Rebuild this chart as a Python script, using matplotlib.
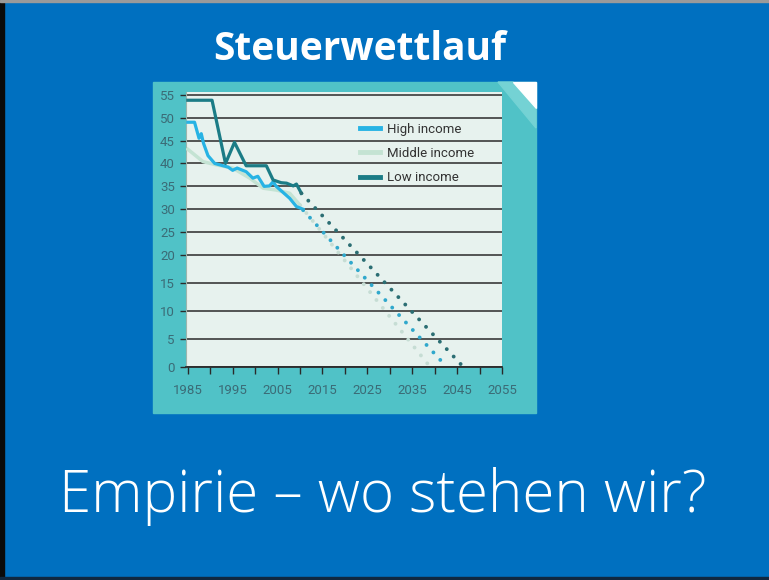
import numpy as np
import matplotlib
matplotlib.use('Agg')
import matplotlib.pyplot as plt
from matplotlib.patches import Rectangle, Polygon
from matplotlib.lines import Line2D

# measured series (tax rate, %)
high_years = [1985, 1986.5, 1987.5, 1988, 1988.5, 1989.5, 1991, 1994, 1995, 1996, 1998,
              1999.5, 2000.6, 2002, 2003.2, 2004, 2004.7, 2006.2, 2007.7, 2009.2, 2010.7]
high_vals = [49, 49, 45.5, 46.5, 44.4, 41.7, 40, 39.2, 38.5, 39, 38.2,
             36.8, 37.2, 35, 35.1, 36, 35, 33.7, 32.4, 30.6, 30]

mid_years = [1985, 1988.4, 1991.3, 1995, 1998.8, 2001.8, 2004.7, 2007.7, 2010]
mid_vals = [43.1, 40.4, 39.7, 39, 36.8, 34.6, 34.2, 33.5, 30.9]

low_years = [1985, 1990.4, 1993.4, 1995.4, 1998, 2002.5, 2004, 2005.8, 2007, 2008.5, 2009.2, 2010.3]
low_vals = [53.8, 53.8, 40, 44.6, 39.5, 39.5, 36.4, 35.8, 35.7, 35.1, 35.5, 33.5]

# projections (dotted)
high_proj_years = [2010.7, 2019.8, 2042.7]
high_proj_vals = [29.8, 20, 0]
mid_proj_years = [2010, 2019, 2039]
mid_proj_vals = [30.9, 20, 0]
low_proj_years = [2010.3, 2023.2, 2046.4]
low_proj_vals = [33.5, 20, 0]

labels = ['High income', 'Middle income', 'Low income']
y_ticks = list(range(0, 56, 5))
x_labels = list(range(1985, 2056, 10))

c_high = '#27b3e4'
c_mid = '#c4e3d3'
c_low = '#1b7c86'
c_low_dot = '#2b6e73'

W, H = 769, 580
fig = plt.figure(figsize=(W / 100, H / 100), dpi=100, facecolor='#0070c0')

def px(x0, y0, x1, y1):
    # figure-fraction rectangle from pixel box (top-left origin)
    return (x0 / W, 1 - y1 / H, (x1 - x0) / W, (y1 - y0) / H)

# slide borders
for (x0, y0, x1, y1, c) in [(0, 0, 4, 580, '#0a0a0a'), (0, 0, 769, 2, '#9a9a9a'),
                            (0, 577, 769, 580, '#102840')]:
    b = px(x0, y0, x1, y1)
    fig.patches.append(Rectangle(b[:2], b[2], b[3], transform=fig.transFigure,
                                 color=c, zorder=-2))

# chart picture background
b = px(153, 82, 536, 413)
fig.patches.append(Rectangle(b[:2], b[2], b[3], transform=fig.transFigure,
                             color='#50c2c7', zorder=-2))
band = [(498, 82), (513, 82), (536, 108), (536, 128)]
fig.patches.append(Polygon([(x / W, 1 - y / H) for x, y in band], closed=True,
                           transform=fig.transFigure, color='#74d2d4', zorder=-1))
curl = [(513, 82), (536, 82), (536, 108)]
fig.patches.append(Polygon([(x / W, 1 - y / H) for x, y in curl], closed=True,
                           transform=fig.transFigure, color='#ffffff', zorder=-1))

# piecewise y scale (lower part is stretched in the original)
def fwd(y):
    y = np.asarray(y, dtype=float)
    return np.where(y <= 20, y * 16.75, 335 + (y - 20) * 13.714)

def inv(p):
    p = np.asarray(p, dtype=float)
    return np.where(p <= 335, p / 16.75, 20 + (p - 335) / 13.714)

ax = fig.add_axes(px(186, 92, 502, 367))
ax.set_zorder(1)
ax.set_yscale('function', functions=(fwd, inv))
ax.set_facecolor('#e7f2ee')
ax.set_xlim(1984.6, 2055)
ax.set_ylim(0, 55.6)

for v in y_ticks:
    ax.axhline(v, color='#2a2a2a', lw=1.1, zorder=1)

ax.plot(mid_years, mid_vals, color=c_mid, lw=2.5, zorder=3, solid_joinstyle='round')
ax.plot(high_years, high_vals, color=c_high, lw=2.3, zorder=4, solid_joinstyle='round')
ax.plot(low_years, low_vals, color=c_low, lw=2.3, zorder=5, solid_joinstyle='round')

dot = (0, (0.01, 2.6))
ax.plot(mid_proj_years, mid_proj_vals, color='#c6ddd4', lw=2.8, ls=dot,
        dash_capstyle='round', zorder=3)
ax.plot(high_proj_years, high_proj_vals, color='#30a8cc', lw=2.8, ls=dot,
        dash_capstyle='round', zorder=4)
ax.plot(low_proj_years, low_proj_vals, color=c_low_dot, lw=2.8, ls=dot,
        dash_capstyle='round', zorder=5)

ax.set_yticks(y_ticks)
ax.set_yticklabels([str(v) for v in y_ticks])
ax.set_xticks(list(range(1985, 2056, 5)))
ax.set_xticklabels([str(v) if v in x_labels else '' for v in range(1985, 2056, 5)])
ax.tick_params(axis='y', direction='out', length=4, width=1, color='#2a2a2a',
               pad=4, labelsize=9.5, labelcolor='#3b6b76')
ax.tick_params(axis='x', direction='out', length=5, width=1, color='#2a2a2a',
               pad=7, labelsize=9.5, labelcolor='#3b6b76')
for lab in ax.get_xticklabels() + ax.get_yticklabels():
    lab.set_fontfamily('Roboto')
for s in ['top', 'right']:
    ax.spines[s].set_visible(False)
ax.spines['left'].set_color('#9bb5ad')
ax.spines['left'].set_linewidth(0.8)
ax.spines['bottom'].set_color('#2a2a2a')
ax.spines['bottom'].set_linewidth(1.3)

handles = [Line2D([], [], color=c, lw=3.5) for c in (c_high, c_mid, c_low)]
leg = ax.legend(handles, labels, loc='upper left', bbox_to_anchor=(348 / W, 1 - 111 / H),
                bbox_transform=fig.transFigure, frameon=False, handlelength=1.5,
                handletextpad=0.55, labelspacing=0.85,
                prop={'family': 'Roboto', 'size': 9.5})
for t in leg.get_texts():
    t.set_color('#333333')

fig.text(360 / W, 1 - 50 / H, 'Steuerwettlauf', ha='center', va='center',
         color='white', fontsize=28, fontweight='bold', family='Open Sans')
fig.text(383 / W, 1 - 497 / H, 'Empirie \u2013 wo stehen wir?', ha='center', va='center',
         color='white', fontsize=42, fontweight=300, family=['Open Sans', 'DejaVu Sans'])

fig.savefig('out.png', dpi=100, facecolor=fig.get_facecolor())
